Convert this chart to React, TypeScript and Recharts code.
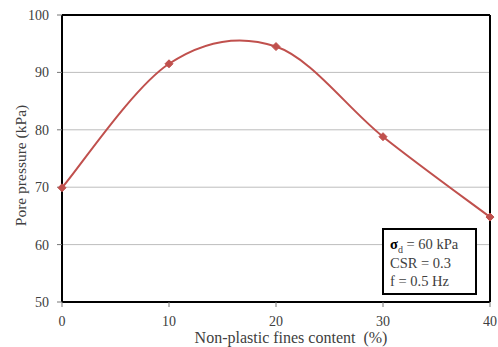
import React from "react";
import {
  LineChart,
  Line,
  XAxis,
  YAxis,
  CartesianGrid,
  ReferenceLine,
} from "recharts";

// fines content (%) vs pore pressure (kPa)
const finesContent = [0, 10, 20, 30, 40];
const porePressure = [69.9, 91.5, 94.5, 78.8, 64.8];
const xTicks = [0, 10, 20, 30, 40];
const yTicks = [50, 60, 70, 80, 90, 100];

const data = finesContent.map((f, i) => ({ fines: f, pressure: porePressure[i] }));

const FONT = "Liberation Serif";
const RED = "#C0504D";
const TEXT = "#404040";

// Excel-style smoothed line (uniform Catmull-Rom as cubic beziers)
function smoothCurve(context: any) {
  let pts: number[][] = [];
  return {
    areaStart() {},
    areaEnd() {},
    lineStart() {
      pts = [];
    },
    point(x: number, y: number) {
      pts.push([+x, +y]);
    },
    lineEnd() {
      if (!pts.length) return;
      context.moveTo(pts[0][0], pts[0][1]);
      for (let i = 0; i < pts.length - 1; i++) {
        const p0 = pts[i - 1] || pts[i];
        const p1 = pts[i];
        const p2 = pts[i + 1];
        const p3 = pts[i + 2] || pts[i + 1];
        context.bezierCurveTo(
          p1[0] + (p2[0] - p0[0]) / 6,
          p1[1] + (p2[1] - p0[1]) / 6,
          p2[0] - (p3[0] - p1[0]) / 6,
          p2[1] - (p3[1] - p1[1]) / 6,
          p2[0],
          p2[1]
        );
      }
    },
  };
}

function Diamond(props: any) {
  const { cx, cy, index } = props;
  const s = 4;
  return (
    <path
      key={index}
      d={`M${cx},${cy - s}L${cx + s},${cy}L${cx},${cy + s}L${cx - s},${cy}Z`}
      fill={RED}
      stroke={RED}
    />
  );
}

export default function App() {
  return (
    <div
      style={{
        position: "fixed",
        left: 0,
        top: 0,
        width: 498,
        height: 347,
        overflow: "hidden",
        background: "#fff",
        fontFamily: FONT,
      }}
    >
      <LineChart
        width={498}
        height={347}
        data={data}
        margin={{ top: 15, right: 8, bottom: 0, left: 0 }}
        style={{ fontFamily: FONT }}
      >
        <CartesianGrid vertical={false} stroke="#BDBDBD" strokeWidth={1} />
        <XAxis
          type="number"
          dataKey="fines"
          domain={[0, 40]}
          ticks={xTicks}
          height={45}
          stroke="#000"
          strokeWidth={2}
          tickSize={5}
          tick={{ fontSize: 14, fill: TEXT, fontFamily: FONT, dy: 7 }}
          tickLine={{ stroke: "#777", strokeWidth: 1 }}
          label={{
            value: "Non-plastic fines content\u00a0\u00a0(%)",
            position: "insideBottom",
            offset: 4,
            dx: 15,
            style: { fontSize: 16, fill: TEXT, fontFamily: FONT },
          }}
        />
        <YAxis
          type="number"
          domain={[50, 100]}
          ticks={yTicks}
          width={62}
          stroke="#000"
          strokeWidth={2}
          tickSize={5}
          tick={{ fontSize: 14, fill: TEXT, fontFamily: FONT, dx: -6 }}
          tickLine={{ stroke: "#777", strokeWidth: 1 }}
          label={{
            value: "Pore pressure (kPa)",
            angle: -90,
            position: "insideLeft",
            offset: 20,
            dy: 7,
            style: { textAnchor: "middle", fontSize: 15.5, fill: TEXT, fontFamily: FONT },
          }}
        />
        <ReferenceLine y={100} stroke="#000" strokeWidth={2} />
        <ReferenceLine x={40} stroke="#000" strokeWidth={2} />
        <Line
          dataKey="pressure"
          type={smoothCurve as any}
          stroke={RED}
          strokeWidth={2}
          dot={<Diamond />}
          activeDot={false}
          isAnimationActive={false}
        />
      </LineChart>
      <div
        style={{
          position: "absolute",
          left: 382,
          top: 228,
          width: 95,
          height: 67,
          border: "2px solid #000",
          background: "#fff",
          fontSize: 14.5,
          color: TEXT,
          lineHeight: "18.5px",
          padding: "5px 0 0 6px",
          boxSizing: "border-box",
        }}
      >
        <div>
          <b style={{ color: "#000" }}>σ</b>
          <sub style={{ fontSize: 10, lineHeight: 0 }}>d</sub> = 60 kPa
        </div>
        <div>CSR = 0.3</div>
        <div>f = 0.5 Hz</div>
      </div>
    </div>
  );
}
